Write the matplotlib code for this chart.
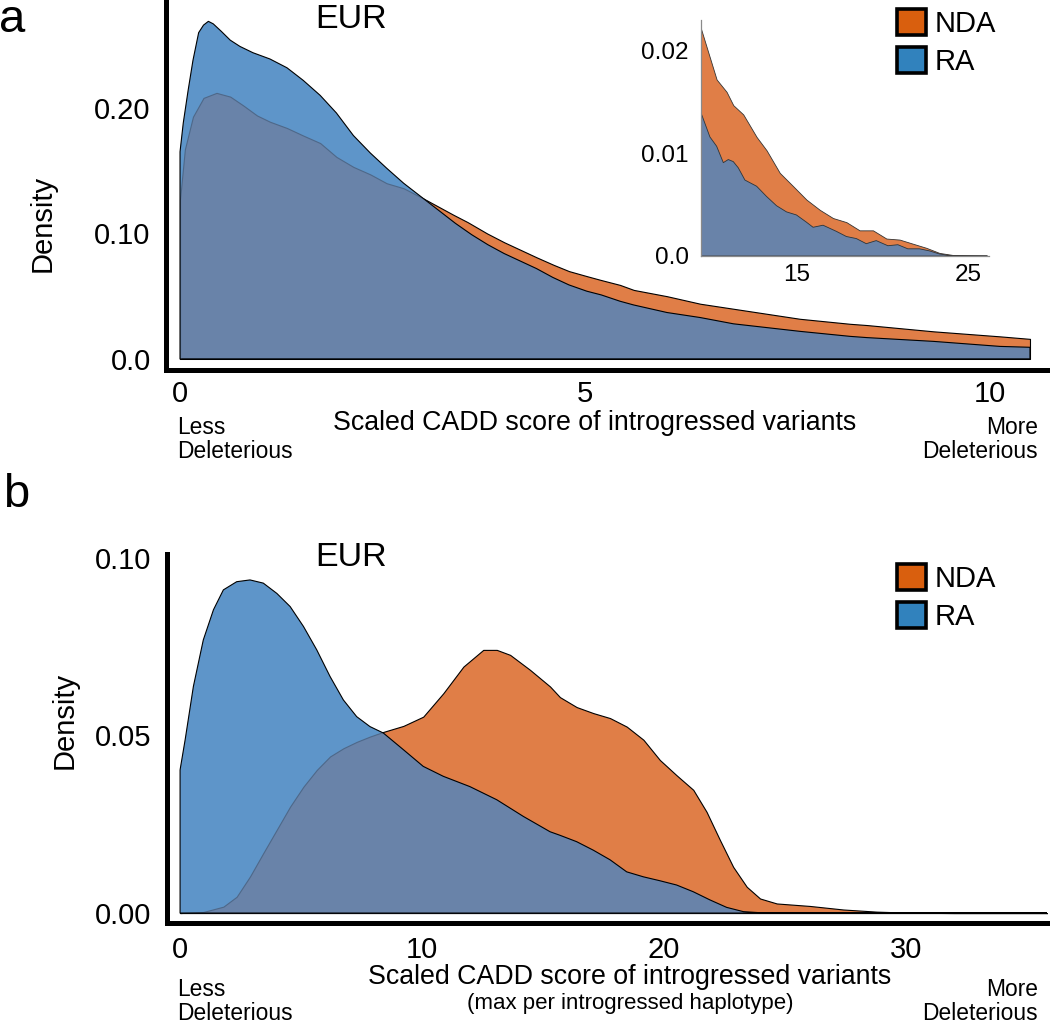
import numpy as np
import matplotlib.pyplot as plt
from matplotlib.patches import Patch

plt.rcParams['font.family'] = ['Liberation Sans', 'DejaVu Sans']

W, H = 1050, 1026

# ---- panel a: density of scaled CADD score ----
a_ra_x = [0.00, 0.04, 0.10, 0.16, 0.23, 0.29, 0.35, 0.41, 0.51, 0.62, 0.74, 0.90,
          1.11, 1.32, 1.52, 1.73, 1.93, 2.14, 2.35, 2.55, 2.76, 3.00, 3.20, 3.40,
          3.60, 3.80, 4.00, 4.20, 4.40, 4.60, 4.80, 5.02, 5.20, 5.43, 5.60, 6.01,
          6.42, 6.83, 7.24, 7.65, 8.27, 8.48, 9.30, 10.12, 10.49]
a_ra_y = [0.165, 0.188, 0.214, 0.238, 0.260, 0.266, 0.269, 0.267, 0.261, 0.254, 0.249, 0.244,
          0.239, 0.232, 0.222, 0.210, 0.196, 0.178, 0.164, 0.152, 0.140, 0.128, 0.118, 0.108,
          0.099, 0.091, 0.084, 0.078, 0.072, 0.065, 0.059, 0.054, 0.051, 0.046, 0.043, 0.037,
          0.033, 0.028, 0.025, 0.022, 0.018, 0.017, 0.014, 0.010, 0.0093]
a_nda_x = [0.00, 0.06, 0.16, 0.29, 0.45, 0.62, 0.78, 0.95, 1.11, 1.32, 1.52, 1.73,
           1.93, 2.14, 2.35, 2.55, 2.76, 3.00, 3.37, 3.55, 3.79, 4.00, 4.20, 4.40,
           4.61, 4.80, 5.02, 5.19, 5.43, 5.60, 6.01, 6.42, 6.83, 7.24, 7.65, 8.27,
           8.48, 9.30, 10.12, 10.49]
a_nda_y = [0.127, 0.167, 0.193, 0.208, 0.212, 0.209, 0.202, 0.194, 0.189, 0.184, 0.178, 0.172,
           0.161, 0.153, 0.147, 0.140, 0.136, 0.128, 0.115, 0.109, 0.100, 0.093, 0.087, 0.081,
           0.075, 0.070, 0.066, 0.063, 0.059, 0.055, 0.050, 0.044, 0.040, 0.036, 0.032, 0.028,
           0.027, 0.022, 0.018, 0.016]

# inset: the tail of panel a
in_nda_x = [9.41, 10.33, 10.91, 11.30, 11.88, 12.66, 13.24, 14.01, 14.79, 15.56, 16.34,
            17.11, 17.89, 18.66, 19.44, 20.22, 20.99, 21.76, 22.54, 23.31, 24.09, 26.10]
in_nda_y = [0.0222, 0.0172, 0.0160, 0.0147, 0.0138, 0.0116, 0.0103, 0.0081, 0.0068, 0.0055, 0.0045,
            0.0037, 0.0033, 0.0025, 0.0025, 0.0017, 0.0016, 0.0012, 0.0008, 0.0003, 0.0001, 0.0]
in_ra_x = [9.41, 9.94, 10.33, 10.72, 11.01, 11.30, 11.59, 11.98, 12.66, 13.24, 13.82, 14.40,
           14.98, 15.56, 15.95, 16.53, 17.31, 17.89, 18.47, 19.05, 19.63, 20.31, 20.89, 21.47,
           22.15, 22.73, 23.31, 24.09, 26.10]
in_ra_y = [0.0140, 0.0116, 0.0107, 0.0091, 0.0094, 0.0092, 0.0086, 0.0074, 0.0068, 0.0058, 0.0049, 0.0043,
           0.0040, 0.0033, 0.0028, 0.0030, 0.0024, 0.0019, 0.0017, 0.0012, 0.0015, 0.0010, 0.0011, 0.0007,
           0.0007, 0.0005, 0.0002, 0.0, 0.0]

# ---- panel b: max score per introgressed haplotype ----
b_ra_x = [0.00, 0.21, 0.55, 0.96, 1.38, 1.79, 2.34, 2.89, 3.44, 4.00, 4.55, 5.10,
          5.65, 6.20, 6.75, 7.30, 7.85, 8.40, 9.23, 10.05, 10.88, 11.98, 13.09, 14.19,
          15.29, 15.70, 16.39, 17.08, 17.77, 18.46, 19.15, 19.83, 20.52, 21.21, 21.90,
          22.59, 23.28, 23.97, 26.0, 36.0]
b_ra_y = [0.0403, 0.0488, 0.0638, 0.0769, 0.0854, 0.0910, 0.0933, 0.0938, 0.0929, 0.0900, 0.0863, 0.0807,
          0.0741, 0.0666, 0.0600, 0.0553, 0.0525, 0.0507, 0.0460, 0.0413, 0.0385, 0.0356, 0.0319, 0.0272,
          0.0229, 0.0219, 0.0201, 0.0177, 0.0150, 0.0116, 0.0102, 0.0091, 0.0079, 0.0060, 0.0037,
          0.0016, 0.0004, 0.0001, 0.0, 0.0]
b_nda_x = [0.00, 0.96, 1.79, 2.34, 2.89, 3.44, 4.00, 4.55, 5.10, 5.65, 6.20, 6.75,
           7.30, 7.85, 8.40, 9.23, 10.05, 10.88, 11.71, 12.53, 13.09, 13.64, 14.46, 15.29,
           15.70, 16.39, 17.08, 17.77, 18.46, 19.15, 19.83, 20.52, 21.21, 21.76, 22.31,
           22.86, 23.42, 23.97, 24.66, 26.03, 27.41, 28.79, 30.17, 32.0, 36.0]
b_nda_y = [0.0, 0.0003, 0.0018, 0.0046, 0.0103, 0.0169, 0.0235, 0.0300, 0.0356, 0.0403, 0.0441, 0.0464,
           0.0482, 0.0497, 0.0510, 0.0527, 0.0553, 0.0619, 0.0694, 0.0741, 0.0741, 0.0727, 0.0685, 0.0638,
           0.0608, 0.0580, 0.0563, 0.0549, 0.0525, 0.0488, 0.0431, 0.0388, 0.0347, 0.0285, 0.0206,
           0.0130, 0.0074, 0.0041, 0.0027, 0.0020, 0.0010, 0.0004, 0.0001, 0.0, 0.0]

# legend colours and the fill colours as they appear on the page
ORANGE = '#d95f0e'
BLUE = '#3182bd'
ORANGE_FILL = '#e07e47'
BLUE_FILL = '#5e95c9'
BOTH_FILL = '#6983a9'


def fig_xy(x, y):
    return x / W, 1 - y / H


def add_axes_px(fig, left, top, right, bottom):
    return fig.add_axes([left / W, 1 - bottom / H, (right - left) / W, (bottom - top) / H])


def two_densities(ax, nda_x, nda_y, ra_x, ra_y, lw=0.8, ec='black'):
    ax.fill_between(nda_x, 0, nda_y, facecolor=ORANGE_FILL, edgecolor=ec, linewidth=lw)
    ra = ax.fill_between(ra_x, 0, ra_y, facecolor=BLUE_FILL, edgecolor='none')
    # where RA sits over NDA: greyish blue, with NDA's outline showing faintly
    both = ax.fill_between(nda_x, 0, nda_y, facecolor=BOTH_FILL, edgecolor='#4e6889',
                           linewidth=lw)
    both.set_clip_path(ra.get_paths()[0], ax.transData)
    ax.fill_between(ra_x, 0, ra_y, facecolor='none', edgecolor=ec, linewidth=lw)


def style_main(ax, xpad):
    for s in ['top', 'right']:
        ax.spines[s].set_visible(False)
    for s in ['left', 'bottom']:
        ax.spines[s].set_linewidth(3.6)
        ax.spines[s].set_capstyle('projecting')
    ax.tick_params(length=0, labelsize=21)
    ax.tick_params(axis='x', pad=xpad)
    ax.tick_params(axis='y', pad=11)
    ax.patch.set_alpha(0)


def add_legend(ax, y_top):
    handles = [Patch(facecolor=ORANGE, edgecolor='black', linewidth=2.6, label='NDA'),
               Patch(facecolor=BLUE, edgecolor='black', linewidth=2.6, label='RA')]
    ax.legend(handles=handles, loc='upper left', bbox_to_anchor=fig_xy(897, y_top),
              bbox_transform=fig.transFigure, frameon=False, fontsize=21,
              handlelength=1.0, handleheight=1.0, handletextpad=0.3,
              labelspacing=0.3, borderpad=0, borderaxespad=0)


fig = plt.figure(figsize=(W / 100, H / 100), dpi=100)

# panel a
ax1 = add_axes_px(fig, 166, 0, 1047, 370)
two_densities(ax1, a_nda_x, a_nda_y, a_ra_x, a_ra_y)
ax1.set_xlim(-0.173, 10.70)
ax1.set_ylim(-0.0088, 0.286)
ax1.set_xticks([0, 5, 10], ['0', '5', '10'])
ax1.set_yticks([0, 0.1, 0.2], ['0.0', '0.10', '0.20'])
style_main(ax1, 7)
add_legend(ax1, 9)

# inset
ax_in = add_axes_px(fig, 701, 20, 989, 256)
two_densities(ax_in, in_nda_x, in_nda_y, in_ra_x, in_ra_y, lw=0.6, ec='#333333')
ax_in.set_xlim(9.42, 26.2)
ax_in.set_ylim(0, 0.023)
ax_in.set_xticks([15, 25], ['15', '25'])
ax_in.set_yticks([0, 0.01, 0.02], ['0.0', '0.01', '0.02'])
for s in ['top', 'right']:
    ax_in.spines[s].set_visible(False)
for s in ['left', 'bottom']:
    ax_in.spines[s].set_linewidth(0.9)
    ax_in.spines[s].set_color('#8a8a8a')
ax_in.tick_params(length=0, labelsize=17.5)
ax_in.tick_params(axis='x', pad=6)
ax_in.tick_params(axis='y', pad=9)
ax_in.patch.set_alpha(0)

# panel b
ax2 = add_axes_px(fig, 167, 554, 1047, 923)
two_densities(ax2, b_nda_x, b_nda_y, b_ra_x, b_ra_y)
ax2.set_xlim(-0.54, 35.83)
ax2.set_ylim(-0.0028, 0.1011)
ax2.set_xticks([0, 10, 20, 30], ['0', '10', '20', '30'])
ax2.set_yticks([0, 0.05, 0.1], ['0.00', '0.05', '0.10'])
style_main(ax2, 9)
add_legend(ax2, 564)


# text
def label(x, y, s, size, **kw):
    kw.setdefault('ha', 'center')
    kw.setdefault('va', 'center')
    fig.text(*fig_xy(x, y), s, fontsize=size, **kw)


label(12, 32, 'a', 34, va='baseline')
label(16, 495, 'b', 34)
label(351, 20, 'EUR', 24.5)
label(351, 558, 'EUR', 24.5)
label(43, 223, 'Density', 21, rotation=90)
label(65, 720, 'Density', 21, rotation=90)

label(595, 423, 'Scaled CADD score of introgressed variants', 19.3)
label(177, 428, 'Less', 16.4, ha='left')
label(177, 452, 'Deleterious', 16.4, ha='left')
label(1038, 428, 'More', 16.4, ha='right')
label(1038, 452, 'Deleterious', 16.4, ha='right')

label(630, 977, 'Scaled CADD score of introgressed variants', 19.3)
label(630, 1004, '(max per introgressed haplotype)', 16)
label(177, 989, 'Less', 16.4, ha='left')
label(177, 1013, 'Deleterious', 16.4, ha='left')
label(1038, 989, 'More', 16.4, ha='right')
label(1038, 1013, 'Deleterious', 16.4, ha='right')

fig.savefig('out.png', dpi=100)
